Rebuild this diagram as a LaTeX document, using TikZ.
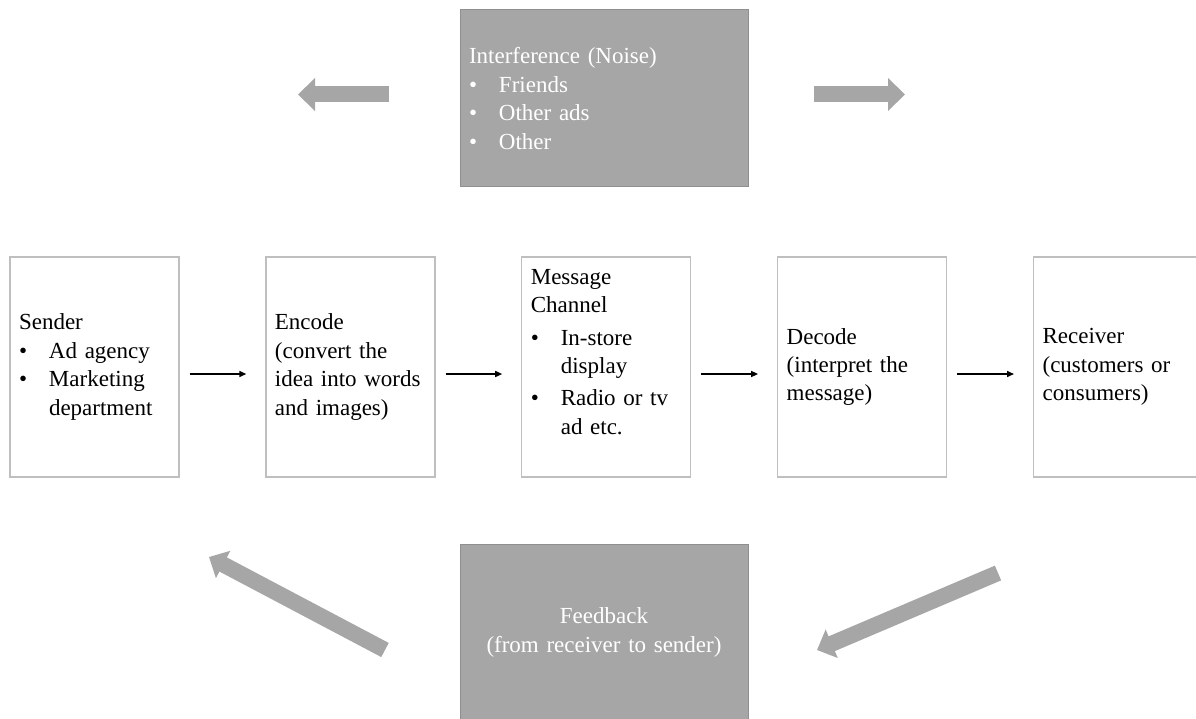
\documentclass[tikz,border=0pt]{standalone}
\usepackage{fontspec}
\setmainfont{Liberation Serif}
\usetikzlibrary{positioning,arrows.meta}
\definecolor{panelgray}{HTML}{A6A6A6}
\definecolor{paneledge}{HTML}{8F8F8F}
\definecolor{boxedge}{HTML}{BFBFBF}
\newcommand{\itm}[1]{\makebox[30pt][l]{\textbullet}#1}
\newcommand{\ind}{\hspace*{30pt}}
\tikzstyle{stage}=[draw=boxedge, line width=1.2pt, fill=white, text width=151pt, minimum height=220pt, inner xsep=9pt, align=left, font=\fontsize{23pt}{28.4pt}\selectfont]
\tikzstyle{panel}=[draw=paneledge, line width=1pt, fill=panelgray, text=white, text width=270pt, minimum height=177pt, inner xsep=9pt, font=\fontsize{23pt}{28.4pt}\selectfont]
\tikzstyle{flow}=[line width=1.5pt, -{Triangle[length=7pt,width=6pt]}, shorten <=10pt, shorten >=19pt]
\tikzstyle{bigarrow}=[panelgray, line width=16pt, -{Triangle[length=17pt,width=32pt]}]

\begin{document}
\begin{tikzpicture}[x=1pt,y=-1pt]
    \useasboundingbox (0,0) rectangle (1196,719);
    \clip (0,0) rectangle (1196,719);

    % the five stages
    \node[stage] (snd) at (94.5,367) {Sender\\ \itm{Ad agency}\\ \itm{Marketing}\\ \ind department};
    \node[stage] (enc) [right=85.7pt of snd] {Encode\\ (convert the\\ idea into words\\ and images)};
    \node[stage] (msg) [right=85.7pt of enc] {Message\\ Channel\\[4pt] \itm{In-store}\\ \ind display\\[4pt] \itm{Radio or tv}\\ \ind ad etc.\\[2pt]\mbox{}};
    \node[stage] (dec) [right=85.7pt of msg] {Decode\\ (interpret the\\ message)};
    \node[stage] (rcv) [right=85.7pt of dec] {Receiver\\ (customers or\\ consumers)};

    \draw[flow] ([yshift=-7pt]snd.east) -- ([yshift=-7pt]enc.west);
    \draw[flow] ([yshift=-7pt]enc.east) -- ([yshift=-7pt]msg.west);
    \draw[flow] ([yshift=-7pt]msg.east) -- ([yshift=-7pt]dec.west);
    \draw[flow] ([yshift=-7pt]dec.east) -- ([yshift=-7pt]rcv.west);

    % noise and feedback
    \node[panel, align=left] (noise) at (604,98.5) {Interference (Noise)\\ \itm{Friends}\\ \itm{Other ads}\\ \itm{Other}};
    \node[panel, align=center] (fb) at (604,632.5) {Feedback\\ (from receiver to sender)};

    \coordinate (nl0) at (389,94.5);
    \coordinate (nl1) at (298,94.5);
    \coordinate (nr0) at (814,94.5);
    \coordinate (nr1) at (905,94.5);
    \coordinate (fl0) at (385,650);
    \coordinate (fl1) at (209,557);
    \coordinate (fr0) at (998,573);
    \coordinate (fr1) at (817,650);
    \draw[bigarrow] (nl0) -- (nl1);
    \draw[bigarrow] (nr0) -- (nr1);
    \draw[bigarrow, -{Triangle[length=16pt,width=30pt]}] (fl0) -- (fl1);
    \draw[bigarrow, -{Triangle[length=16pt,width=30pt]}] (fr0) -- (fr1);
\end{tikzpicture}
\end{document}
